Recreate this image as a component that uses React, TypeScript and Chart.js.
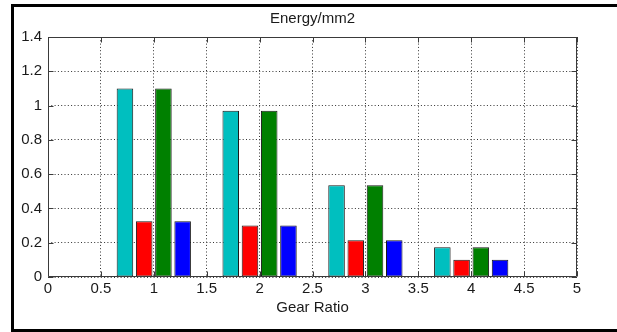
import React, { useEffect, useRef } from 'react';
import { Chart, registerables } from 'chart.js';

Chart.register(...registerables);

const categories = [1, 2, 3, 4];
const cyanValues = [1.1, 0.97, 0.535, 0.173];
const redValues = [0.325, 0.3, 0.215, 0.1];
const greenValues = [1.1, 0.97, 0.535, 0.173];
const blueValues = [0.325, 0.3, 0.215, 0.1];
const xTickLabels = ['0', '0.5', '1', '1.5', '2', '2.5', '3', '3.5', '4', '4.5', '5'];
const yTickLabels = ['0', '0.2', '0.4', '0.6', '0.8', '1', '1.2', '1.4'];
const titleText = 'Energy/mm2';
const xTitle = 'Gear Ratio';

const FONT = "'Liberation Sans', Arial, Helvetica, sans-serif";
const TEXT = '#1a1a1a';
const AXIS = '#3a3a3a';
const GRID = '#333';
const FS = 15;

const labelFor = (labels: string[], v: number) => {
  const f = labels.find((l) => Math.abs(parseFloat(l) - v) < 1e-6);
  return f !== undefined ? f : '';
};

const framePlugin = {
  id: 'matlabFrame',
  afterDatasetsDraw(chart: any) {
    const { ctx, chartArea, scales } = chart;
    const { left, right, top, bottom } = chartArea;
    const xs = scales.x;
    const ys = scales.y;
    const L = Math.round(left) + 0.5;
    const R = Math.round(right) - 0.5;
    const T = Math.round(top) + 0.5;
    const B = Math.round(bottom) - 0.5;
    ctx.save();
    ctx.strokeStyle = AXIS;
    ctx.lineWidth = 1;
    ctx.setLineDash([]);
    ctx.beginPath();
    ctx.rect(L, T, R - L, B - T);
    ctx.stroke();
    const tl = 5;
    ctx.beginPath();
    xs.ticks.forEach((t: any) => {
      const px = Math.round(xs.getPixelForValue(t.value)) + 0.5;
      ctx.moveTo(px, B);
      ctx.lineTo(px, B - tl);
      ctx.moveTo(px, T);
      ctx.lineTo(px, T + tl);
    });
    ys.ticks.forEach((t: any) => {
      const py = Math.round(ys.getPixelForValue(t.value)) + 0.5;
      ctx.moveTo(L, py);
      ctx.lineTo(L + tl, py);
      ctx.moveTo(R, py);
      ctx.lineTo(R - tl, py);
    });
    ctx.stroke();
    ctx.restore();
  },
};

const mk = (label: string, values: number[], color: string) => ({
  label,
  data: categories.map((c, i) => ({ x: c, y: values[i] })),
  backgroundColor: color,
  borderColor: '#1a1a1a',
  borderWidth: 1,
  borderSkipped: false,
  categoryPercentage: 1.4545,
  barPercentage: 0.86,
});

export default function App() {
  const ref = useRef<HTMLCanvasElement | null>(null);
  useEffect(() => {
    if (!ref.current) return;
    Chart.defaults.font.family = FONT;
    const chart = new Chart(ref.current, {
      type: 'bar',
      data: {
        datasets: [
          mk('A', cyanValues, '#00BFBF'),
          mk('B', redValues, '#FF0000'),
          mk('C', greenValues, '#008000'),
          mk('D', blueValues, '#0000FF'),
        ] as any,
      },
      options: {
        animation: false,
        responsive: false,
        maintainAspectRatio: false,
        devicePixelRatio: 1,
        layout: { padding: { top: 0, right: 40, bottom: 0, left: 0 } },
        plugins: {
          legend: { display: false },
          tooltip: { enabled: false },
          title: {
            display: true,
            fullSize: false,
            text: titleText,
            color: TEXT,
            font: { size: FS, weight: 'normal', family: FONT },
            padding: { top: 9.5, bottom: 9.5 },
          },
        },
        scales: {
          x: {
            type: 'linear',
            min: 0,
            max: 5,
            offset: false,
            afterFit: (s: any) => {
              s.height = 55;
            },
            ticks: {
              stepSize: 0.5,
              color: TEXT,
              padding: 3,
              maxRotation: 0,
              autoSkip: false,
              font: { size: FS, family: FONT },
              callback: (v: any) => labelFor(xTickLabels, Number(v)),
            },
            grid: {
              color: GRID,
              lineWidth: 1,
              drawTicks: false,
              offset: false,
            },
            border: { display: false, dash: [1, 2.3] },
            title: {
              display: true,
              text: xTitle,
              color: TEXT,
              font: { size: FS, family: FONT },
              padding: { top: 0, bottom: 15.5 },
            },
          },
          y: {
            type: 'linear',
            min: 0,
            max: 1.4,
            afterFit: (s: any) => {
              s.width = 48;
            },
            ticks: {
              stepSize: 0.2,
              color: TEXT,
              padding: 6,
              autoSkip: false,
              font: { size: FS, family: FONT },
              callback: (v: any) => labelFor(yTickLabels, Number(v)),
            },
            grid: {
              color: GRID,
              lineWidth: 1,
              drawTicks: false,
            },
            border: { display: false, dash: [1, 2.3] },
          },
        },
      } as any,
      plugins: [framePlugin],
    });
    return () => chart.destroy();
  }, []);

  return (
    <div
      style={{
        position: 'fixed',
        left: 0,
        top: 0,
        width: 617,
        height: 332,
        overflow: 'hidden',
        background: '#fff',
      }}
    >
      <div
        style={{
          position: 'absolute',
          left: 11,
          top: 4,
          width: 700,
          height: 328,
          border: '3px solid #000',
          boxSizing: 'border-box',
        }}
      />
      <canvas
        ref={ref}
        width={617}
        height={332}
        style={{ position: 'absolute', left: 0, top: 0, width: 617, height: 332 }}
      />
    </div>
  );
}
